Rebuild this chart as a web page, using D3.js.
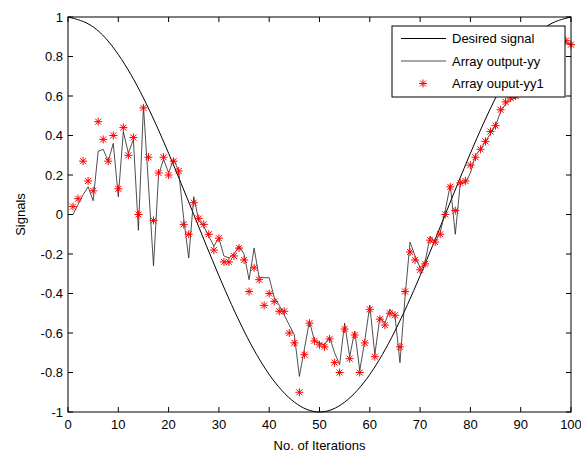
<!DOCTYPE html>
<html>
<head>
<meta charset="utf-8">
<script src="https://cdn.jsdelivr.net/npm/d3@7"></script>
<style>
  body { margin: 0; background: #fff; }
  text { font-family: "Liberation Sans", Arial, sans-serif; font-size: 13px; fill: #000; }
</style>
</head>
<body>
<div id="chart"></div>
<script>
// desired signal, read every 5 iterations
const desiredX = [0, 5, 10, 15, 20, 25, 30, 35, 40, 45, 50, 55, 60, 65, 70, 75, 80, 85, 90, 95, 100];
const desiredY = [1, 0.95, 0.81, 0.59, 0.31, 0, -0.31, -0.59, -0.81, -0.95, -1, -0.95, -0.81, -0.59, -0.31, 0, 0.31, 0.59, 0.81, 0.95, 1];

// array output yy (line), iterations 1..100
const outputYY = [
  0.00, 0.05, 0.10, 0.14, 0.07, 0.32, 0.33, 0.27, 0.36, 0.09,
  0.42, 0.31, 0.38, -0.08, 0.55, 0.15, -0.26, 0.20, 0.28, 0.21,
  0.28, 0.22, -0.02, -0.22, 0.09, -0.03, -0.06, -0.11, -0.16, -0.12,
  -0.21, -0.22, -0.20, -0.16, -0.20, -0.33, -0.17, -0.32, -0.32, -0.32,
  -0.42, -0.46, -0.51, -0.56, -0.61, -0.82, -0.68, -0.54, -0.64, -0.65,
  -0.66, -0.62, -0.70, -0.76, -0.55, -0.72, -0.59, -0.79, -0.64, -0.46,
  -0.71, -0.52, -0.55, -0.48, -0.51, -0.75, -0.42, -0.14, -0.21, -0.27,
  -0.24, -0.11, -0.14, -0.09, 0.02, 0.15, -0.10, 0.16, 0.16, 0.21,
  0.30, 0.33, 0.37, 0.41, 0.45, 0.52, 0.56, 0.58, 0.59, 0.61,
  0.64, 0.67, 0.71, 0.75, 0.78, 0.81, 0.84, 0.86, 0.87, 0.86
];

// array output yy1 (star markers), iterations 1..100
const outputYY1 = [
  0.04, 0.08, 0.27, 0.17, 0.12, 0.47, 0.38, 0.27, 0.40, 0.13,
  0.44, 0.30, 0.39, 0.00, 0.54, 0.29, -0.03, 0.21, 0.29, 0.20,
  0.27, 0.22, -0.05, -0.10, 0.06, -0.02, -0.05, -0.10, -0.18, -0.12,
  -0.24, -0.24, -0.21, -0.17, -0.23, -0.39, -0.27, -0.33, -0.46, -0.40,
  -0.44, -0.49, -0.49, -0.60, -0.65, -0.90, -0.71, -0.55, -0.64, -0.66,
  -0.67, -0.63, -0.75, -0.80, -0.58, -0.73, -0.61, -0.80, -0.65, -0.48,
  -0.72, -0.53, -0.56, -0.50, -0.51, -0.67, -0.39, -0.19, -0.23, -0.28,
  -0.25, -0.13, -0.14, -0.10, 0.00, 0.14, 0.02, 0.16, 0.17, 0.25,
  0.29, 0.33, 0.37, 0.42, 0.45, 0.53, 0.57, 0.59, 0.60, 0.62,
  0.65, 0.68, 0.72, 0.76, 0.79, 0.82, 0.85, 0.87, 0.88, 0.86
];

const xTicks = [0, 10, 20, 30, 40, 50, 60, 70, 80, 90, 100];
const yTicks = [-1, -0.8, -0.6, -0.4, -0.2, 0, 0.2, 0.4, 0.6, 0.8, 1];
const yTickLabels = ["-1", "-0.8", "-0.6", "-0.4", "-0.2", "0", "0.2", "0.4", "0.6", "0.8", "1"];
const legendLabels = ["Desired signal", "Array output-yy", "Array ouput-yy1"];

const W = 581, H = 452;
const margin = { top: 17, right: 10, bottom: 40, left: 68 };
const innerW = W - margin.left - margin.right;
const innerH = H - margin.top - margin.bottom;

const svg = d3.select("#chart").append("svg")
    .attr("width", W)
    .attr("height", H);

const g = svg.append("g")
    .attr("transform", `translate(${margin.left},${margin.top})`);

const x = d3.scaleLinear().domain([0, 100]).range([0, innerW]);
const y = d3.scaleLinear().domain([-1, 1]).range([innerH, 0]);

// star marker: a "+" plus an "x"
function starPath(cx, cy) {
    const a = 4, b = 3;
    return `M${cx - a},${cy}L${cx + a},${cy}M${cx},${cy - a}L${cx},${cy + a}` +
        `M${cx - b},${cy - b}L${cx + b},${cy + b}M${cx - b},${cy + b}L${cx + b},${cy - b}`;
}

// desired signal
const desired = desiredX.map((d, i) => [d, desiredY[i]]);
g.append("path")
    .datum(desired)
    .attr("fill", "none")
    .attr("stroke", "#000")
    .attr("stroke-width", 1)
    .attr("d", d3.line().x(d => x(d[0])).y(d => y(d[1])).curve(d3.curveNatural));

// yy line
g.append("path")
    .datum(outputYY)
    .attr("fill", "none")
    .attr("stroke", "#222")
    .attr("stroke-width", 0.8)
    .attr("d", d3.line().x((d, i) => x(i + 1)).y(d => y(d)));

// yy1 stars
g.append("g").selectAll("path")
    .data(outputYY1)
    .enter().append("path")
    .attr("d", (d, i) => starPath(x(i + 1), y(d)))
    .attr("fill", "none")
    .attr("stroke", "#ff0000")
    .attr("stroke-width", 1);

// axes box with inward ticks on all sides
const tick = 5;
const axes = g.append("g");
axes.append("rect")
    .attr("width", innerW).attr("height", innerH)
    .attr("fill", "none").attr("stroke", "#000").attr("stroke-width", 1);

xTicks.forEach(t => {
    axes.append("line").attr("x1", x(t)).attr("x2", x(t)).attr("y1", innerH).attr("y2", innerH - tick).attr("stroke", "#000");
    axes.append("line").attr("x1", x(t)).attr("x2", x(t)).attr("y1", 0).attr("y2", tick).attr("stroke", "#000");
    axes.append("text")
        .attr("x", x(t)).attr("y", innerH + 17)
        .attr("text-anchor", "middle")
        .text(t);
});

yTicks.forEach((t, i) => {
    axes.append("line").attr("x1", 0).attr("x2", tick).attr("y1", y(t)).attr("y2", y(t)).attr("stroke", "#000");
    axes.append("line").attr("x1", innerW).attr("x2", innerW - tick).attr("y1", y(t)).attr("y2", y(t)).attr("stroke", "#000");
    axes.append("text")
        .attr("x", -5).attr("y", y(t) + 4.5)
        .attr("text-anchor", "end")
        .text(yTickLabels[i]);
});

svg.append("text")
    .attr("x", margin.left + innerW / 2).attr("y", 450)
    .attr("text-anchor", "middle")
    .text("No. of Iterations");

svg.append("text")
    .attr("transform", `translate(25,${margin.top + innerH / 2}) rotate(-90)`)
    .attr("text-anchor", "middle")
    .text("Signals");

// legend
const legend = svg.append("g").attr("transform", "translate(392,26)");
legend.append("rect")
    .attr("width", 173).attr("height", 71)
    .attr("fill", "#fff").attr("stroke", "#000").attr("stroke-width", 1);

legendLabels.forEach((label, i) => {
    const ly = 12.5 + i * 22.5;
    if (i < 2) {
        legend.append("line")
            .attr("x1", 9).attr("x2", 54).attr("y1", ly).attr("y2", ly)
            .attr("stroke", i === 0 ? "#000" : "#222")
            .attr("stroke-width", i === 0 ? 1 : 0.8);
    } else {
        legend.append("path")
            .attr("d", starPath(31, ly))
            .attr("fill", "none").attr("stroke", "#ff0000");
    }
    legend.append("text")
        .attr("x", 60).attr("y", ly + 4.5)
        .text(label);
});
</script>
</body>
</html>
